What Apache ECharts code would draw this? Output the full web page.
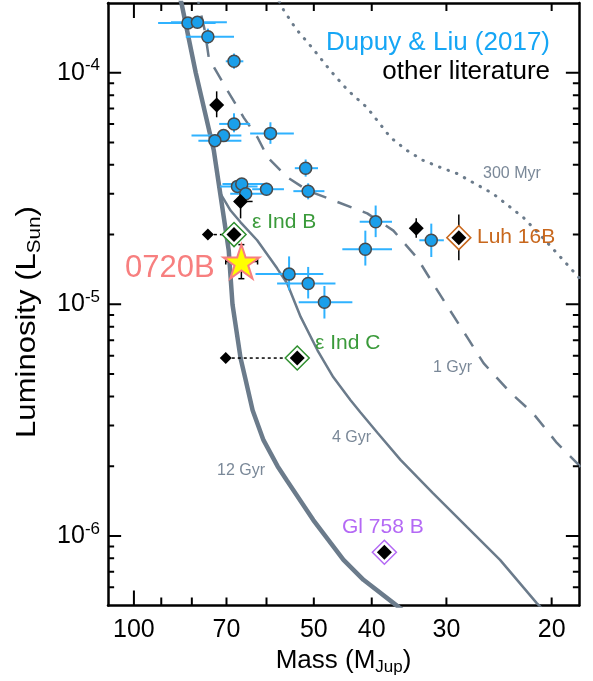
<!DOCTYPE html>
<html>
<head>
<meta charset="utf-8">
<title>Mass-luminosity diagram</title>
<script src="https://cdn.jsdelivr.net/npm/echarts@6.0.0/dist/echarts.min.js"></script>
<style>
  html, body { margin: 0; padding: 0; background: #ffffff; }
  #main { width: 593px; height: 681px; }
</style>
</head>
<body>
<div id="main"></div>
<script>
//===== data: mass in M_Jup, luminosity in L_Sun =====

// model isochrones [mass, lum]
var iso300Myr = [[58.0,2.2e-4],[56.2,1.87e-4],[53.6,1.55e-4],[50.3,1.28e-4],[46.9,1.02e-4],[43.8,8.36e-5],[40.7,7.06e-5],[37.2,5.25e-5],[34.9,4.61e-5],[32.8,4.18e-5],[30.7,3.90e-5],[28.8,3.67e-5],[27.1,3.36e-5],[25.1,3.01e-5],[22.3,2.37e-5],[20.7,1.94e-5],[18.9,1.50e-5],[17.5,1.2e-5]];
var iso1Gyr = [[78.5,2.3e-4],[77.9,1.98e-4],[76.1,1.52e-4],[74.9,1.15e-4],[69.7,8.36e-5],[65.5,6.40e-5],[62.1,5.25e-5],[59.7,4.30e-5],[55.3,3.53e-5],[51.2,3.10e-5],[46.4,2.81e-5],[40.7,2.47e-5],[36.8,2.08e-5],[33.6,1.59e-5],[31.6,1.23e-5],[29.6,9.43e-6],[27.7,7.21e-6],[26.0,5.57e-6],[23.5,4.18e-6],[21.5,3.39e-6],[19.6,2.52e-6],[18.0,2.02e-6],[17.5,1.8e-6]];
var iso4Gyr = [[84.5,2.3e-4],[83.2,1.98e-4],[78.8,1.0e-4],[73.5,4.61e-5],[71.6,3.0e-5],[68.9,2.54e-5],[66.3,2.26e-5],[62.2,1.89e-5],[57.6,1.43e-5],[55.4,1.23e-5],[52.6,8.82e-6],[49.3,6.33e-6],[46.4,4.85e-6],[43.4,3.85e-6],[41.8,3.42e-6],[39.1,2.78e-6],[35.8,2.13e-6],[31.6,1.53e-6],[27.7,1.09e-6],[24.4,7.88e-7],[21.2,5.14e-7],[20.5,4.7e-7]];
var iso12Gyr = [[84.5,2.3e-4],[83.2,1.98e-4],[78.8,1.0e-4],[73.5,4.61e-5],[69.4,1.71e-5],[68.4,1.0e-5],[66.3,5.85e-6],[65.0,4.70e-6],[63.3,3.49e-6],[60.7,2.59e-6],[57.5,2.00e-6],[55.5,1.74e-6],[50.1,1.17e-6],[44.6,7.88e-7],[41.3,6.46e-7],[36.5,5.05e-7],[34.5,4.5e-7]];

// Dupuy & Liu (2017): [mass, lum, massMin, massMax, lumMin, lumMax]
var dupuyLiu = [
  [81.2,1.64e-4,73.0,91.1,1.58e-4,1.70e-4],
  [78.3,1.65e-4,69.9,86.7,1.59e-4,1.71e-4],
  [75.2,1.43e-4,68.0,81.9,1.33e-4,1.55e-4],
  [68.0,1.12e-4,65.6,70.2,1.04e-4,1.21e-4],
  [68.0,6.01e-5,63.9,72.0,5.53e-5,6.68e-5],
  [70.8,5.35e-5,66.1,80.1,5.10e-5,5.60e-5],
  [73.2,5.09e-5,66.1,78.0,4.85e-5,5.35e-5],
  [59.1,5.47e-5,54.0,63.9,4.93e-5,6.11e-5],
  [51.6,3.87e-5,49.2,53.8,3.56e-5,4.22e-5],
  [67.1,3.23e-5,62.1,71.8,3.05e-5,3.42e-5],
  [66.0,3.31e-5,60.7,71.1,3.12e-5,3.50e-5],
  [65.0,3.00e-5,60.7,69.0,2.85e-5,3.15e-5],
  [60.0,3.14e-5,56.1,63.4,2.95e-5,3.35e-5],
  [51.1,3.08e-5,48.0,54.1,2.84e-5,3.33e-5],
  [39.4,2.27e-5,37.0,41.9,1.95e-5,2.67e-5],
  [41.0,1.73e-5,37.0,44.8,1.47e-5,2.08e-5],
  [31.8,1.89e-5,30.3,33.3,1.60e-5,2.23e-5],
  [55.0,1.35e-5,48.2,62.6,1.15e-5,1.61e-5],
  [51.1,1.23e-5,46.0,57.6,1.06e-5,1.45e-5],
  [48.0,1.02e-5,43.1,53.0,8.68e-6,1.20e-5]
];

// other literature (black diamonds), same layout
var otherLit = [
  [72.7,7.26e-5,72.7,72.7,6.42e-5,8.31e-5],
  [66.3,2.78e-5,63.3,68.0,2.35e-5,3.01e-5],
  [33.7,2.13e-5,33.7,33.7,1.94e-5,2.35e-5]
];

// named objects: [small marker, big marker]
var epsIndB = [[75.2,2.0e-5],[68.0,2.0e-5]];
var epsIndC = [[70.2,5.86e-6],[53.3,5.86e-6]];
var luh16B = [[28.6,1.94e-5,28.6,28.6,1.55e-5,2.44e-5]];
var gl758B = [[38.1,8.5e-7]];
var star0720B = [[66.1,1.53e-5,62.1,70.2,1.29e-5,1.81e-5]];

// axes
var massRange = [18, 110.5];
var lumRange = [5e-7, 2e-4];
var massLabels = [100, 70, 50, 40, 30, 20];
var massMajor = [100];
var massMinor = [90, 80, 70, 60, 50, 40, 30, 20];
var lumDecades = [-6, -5, -4];
var lumMinorMult = [2, 3, 4, 5, 6, 7, 8, 9];

//=================================================================================
var FONT = '"Liberation Sans", Arial, Helvetica, sans-serif';
var GREY = '#6b7b8b';
var W = 593, H = 681;
var GRID = {left: 108, right: 14, top: 3, bottom: 75};
var lg = Math.log10;

var lumMajor = lumDecades.map(function (d) { return Math.pow(10, d); });
var lumMinor = [];
[-7].concat(lumDecades).forEach(function (d) {
  lumMinorMult.forEach(function (k) {
    var v = k * Math.pow(10, d);
    if (v > lumRange[0] * 1.001 && v < lumRange[1] * 0.999) lumMinor.push(v);
  });
});

// value axes in log10 space: frame and tick labels only
function frameAxis(dim, pos, more) {
  var range = dim === 'x' ? massRange : lumRange;
  var a = {
    type: 'value',
    position: pos,
    min: lg(range[0]),
    max: lg(range[1]),
    inverse: dim === 'x',
    axisLine: {show: true, lineStyle: {color: '#000', width: 2.5}},
    axisTick: {show: false},
    axisLabel: {show: false},
    splitLine: {show: false},
    silent: true
  };
  for (var k in more) a[k] = more[k];
  return a;
}

function errorBars(data, color, width, cap, z) {
  return {
    type: 'custom', data: data, z: z, silent: true,
    encode: {x: 0, y: 1},
    renderItem: function (params, api) {
      var m = api.value(0), l = api.value(1);
      var c = api.coord([m, l]);
      var x1 = api.coord([api.value(2), l])[0], x2 = api.coord([api.value(3), l])[0];
      var y1 = api.coord([m, api.value(4)])[1], y2 = api.coord([m, api.value(5)])[1];
      var st = {stroke: color, lineWidth: width};
      var kids = [];
      if (Math.abs(x1 - x2) > 0.5) kids.push({type: 'line', shape: {x1: x1, y1: c[1], x2: x2, y2: c[1]}, style: st});
      if (Math.abs(y1 - y2) > 0.5) kids.push({type: 'line', shape: {x1: c[0], y1: y1, x2: c[0], y2: y2}, style: st});
      if (cap) {
        kids.push({type: 'line', shape: {x1: x1, y1: c[1] - cap, x2: x1, y2: c[1] + cap}, style: st});
        kids.push({type: 'line', shape: {x1: x2, y1: c[1] - cap, x2: x2, y2: c[1] + cap}, style: st});
        kids.push({type: 'line', shape: {x1: c[0] - cap, y1: y1, x2: c[0] + cap, y2: y1}, style: st});
        kids.push({type: 'line', shape: {x1: c[0] - cap, y1: y2, x2: c[0] + cap, y2: y2}, style: st});
      }
      return {type: 'group', children: kids};
    }
  };
}

// inside ticks: short segments [from, to] on the log axes,
// tick length converted from pixels to decades of each axis
var pxPerDecX = (W - GRID.left - GRID.right) / lg(massRange[1] / massRange[0]);
var pxPerDecY = (H - GRID.top - GRID.bottom) / lg(lumRange[1] / lumRange[0]);
var EDGE = 1.0005;
function tickSegments(dim, values, len) {
  var segs = [];
  values.forEach(function (v) {
    if (dim === 'x') {
      var fy = Math.pow(10, len / pxPerDecY);
      var lb = lumRange[0] * EDGE, lt = lumRange[1] / EDGE;
      segs.push([[v, lb], [v, lb * fy]]);
      segs.push([[v, lt], [v, lt / fy]]);
    } else {
      var fx = Math.pow(10, len / pxPerDecX);
      var ml = massRange[1] / EDGE, mr = massRange[0] * EDGE;
      segs.push([[ml, v], [ml / fx, v]]);
      segs.push([[mr, v], [mr * fx, v]]);
    }
  });
  return segs;
}
var tickSegs = tickSegments('x', massMajor, 15)
  .concat(tickSegments('x', massMinor, 8))
  .concat(tickSegments('y', lumMajor, 13))
  .concat(tickSegments('y', lumMinor, 6));

// one line series, segments separated by empty points
var tickLineData = [];
tickSegs.forEach(function (s) {
  tickLineData.push(s[0], s[1], ['-', '-']);
});

function isoLine(data, width, type, cap) {
  return {
    type: 'line', data: data, symbol: 'none', silent: true, z: 1,
    lineStyle: {color: GREY, width: width, type: type, cap: cap || 'butt'}
  };
}

function txt(text, x, y, size, color, align) {
  return {
    type: 'text', x: x, y: y, silent: true, z: 20,
    style: {text: text, fill: color, fontSize: size, fontFamily: FONT,
      align: align || 'left', verticalAlign: 'middle'}
  };
}

var STAR = 'path://M50,2 L61.2,36.5 L97.6,36.5 L68.2,57.9 L79.4,92.5 L50,71.1 L20.6,92.5 L31.8,57.9 L2.4,36.5 L38.8,36.5 Z';

var myChart = echarts.init(document.getElementById('main'), null, {renderer: 'canvas'});
myChart.setOption({
  animation: false,
  backgroundColor: '#ffffff',
  grid: {left: GRID.left, right: GRID.right, top: GRID.top, bottom: GRID.bottom, containLabel: false},
  xAxis: [
    {type: 'log', logBase: 10, min: massRange[0], max: massRange[1], inverse: true,
      position: 'bottom', show: false},
    frameAxis('x', 'bottom', {
      axisLabel: {show: true, customValues: massLabels.map(lg), margin: 12,
        color: '#000', fontSize: 25, fontFamily: FONT,
        formatter: function (v) { return String(Math.round(Math.pow(10, v))); }},
      name: '{a|Mass (M}{s|Jup}{a|)}', nameLocation: 'middle', nameGap: 38,
      nameTextStyle: {rich: {
        a: {fontSize: 26, fontFamily: FONT, color: '#000'},
        s: {fontSize: 17, fontFamily: FONT, color: '#000', padding: [14, 0, 0, 0]}
      }}
    }),
    frameAxis('x', 'top', {})
  ],
  yAxis: [
    {type: 'log', logBase: 10, min: lumRange[0], max: lumRange[1], position: 'left', show: false},
    frameAxis('y', 'left', {
      axisLabel: {show: true, customValues: lumDecades, margin: 8,
        formatter: function (v) { return '{b|10}{s|' + Math.round(v) + '}'; },
        rich: {
          b: {fontSize: 25, fontFamily: FONT, color: '#000'},
          s: {fontSize: 17, fontFamily: FONT, color: '#000', padding: [0, 0, 14, 0]}
        }}
    }),
    frameAxis('y', 'right', {})
  ],
  series: [
    isoLine(iso300Myr, 3, [0.5, 8.5], 'round'),
    isoLine(iso1Gyr, 2.5, [15, 12]),
    isoLine(iso4Gyr, 2.5, 'solid'),
    isoLine(iso12Gyr, 4.5, 'solid'),
    // axis ticks drawn as a broken line series
    {type: 'line', data: tickLineData, symbol: 'none', silent: true, z: 4, connectNulls: false,
      lineStyle: {color: '#000', width: 2, type: 'solid'}},
    // dynamical vs. model mass connectors
    {type: 'line', data: epsIndB, symbol: 'none', silent: true, z: 2,
      lineStyle: {color: '#000', width: 1.5, type: [3, 3]}},
    {type: 'line', data: epsIndC, symbol: 'none', silent: true, z: 2,
      lineStyle: {color: '#000', width: 1.5, type: [3, 3]}},
    errorBars(dupuyLiu, '#2fb2ff', 2, 0, 3),
    errorBars(otherLit.concat(luh16B), '#000', 1.5, 0, 3),
    errorBars(star0720B, '#000', 1.5, 3, 3),
    {type: 'scatter', data: dupuyLiu, symbol: 'circle', symbolSize: 12, z: 5, silent: true,
      itemStyle: {color: '#1a9fea', borderColor: '#4a4a4a', borderWidth: 1.5, opacity: 1}},
    {type: 'scatter', data: otherLit, symbol: 'diamond', symbolSize: 15, z: 5, silent: true,
      itemStyle: {color: '#000', opacity: 1}},
    {type: 'scatter', data: [epsIndB[0], epsIndC[0]], symbol: 'diamond', symbolSize: 12, z: 5, silent: true,
      itemStyle: {color: '#000', opacity: 1}},
    {type: 'scatter', data: [epsIndB[1], epsIndC[1]], symbol: 'diamond', symbolSize: 24, z: 5, silent: true,
      itemStyle: {color: '#fff', borderColor: '#2f8f2f', borderWidth: 1.5, opacity: 1}},
    {type: 'scatter', data: luh16B, symbol: 'diamond', symbolSize: 24, z: 5, silent: true,
      itemStyle: {color: '#fff', borderColor: '#c8671c', borderWidth: 1.5, opacity: 1}},
    {type: 'scatter', data: gl758B, symbol: 'diamond', symbolSize: 24, z: 5, silent: true,
      itemStyle: {color: '#fff', borderColor: '#b469f5', borderWidth: 1.5, opacity: 1}},
    {type: 'scatter', data: [epsIndB[1], epsIndC[1], luh16B[0], gl758B[0]], symbol: 'diamond',
      symbolSize: 15, z: 6, silent: true, itemStyle: {color: '#000', opacity: 1}},
    {type: 'scatter', data: star0720B, symbol: STAR, symbolSize: [36, 34], z: 7, silent: true,
      itemStyle: {color: '#ffff00', borderColor: '#f77f7f', borderWidth: 2, opacity: 1}}
  ],
  graphic: [
    {type: 'text', x: 28, y: 322, rotation: Math.PI / 2, scaleX: 1.15, silent: true, z: 20,
      style: {text: '{a|Luminosity (L}{s|Sun}{a|)}', align: 'center', verticalAlign: 'middle',
        rich: {
          a: {fontSize: 27, fontFamily: FONT, fill: '#000'},
          s: {fontSize: 18, fontFamily: FONT, fill: '#000', padding: [14, 0, 0, 0]}
        }}},
    txt('Dupuy & Liu (2017)', 550, 43, 26, '#16a6f5', 'right'),
    txt('other literature', 550, 72, 26, '#000', 'right'),
    txt('300 Myr', 483, 174, 16, '#7a8898'),
    txt('1 Gyr', 433, 368, 16, '#7a8898'),
    txt('4 Gyr', 332, 438, 16, '#7a8898'),
    txt('12 Gyr', 217, 471, 16, '#7a8898'),
    txt('\u03b5 Ind B', 252, 222, 21, '#3a9a3a'),
    txt('\u03b5 Ind C', 315, 343, 21, '#3a9a3a'),
    txt('Luh 16B', 477, 237, 21, '#c8671c'),
    txt('0720B', 125, 268, 31, '#f77f7f'),
    txt('Gl 758 B', 342, 527, 21, '#b469f5')
  ]
});
</script>
</body>
</html>
